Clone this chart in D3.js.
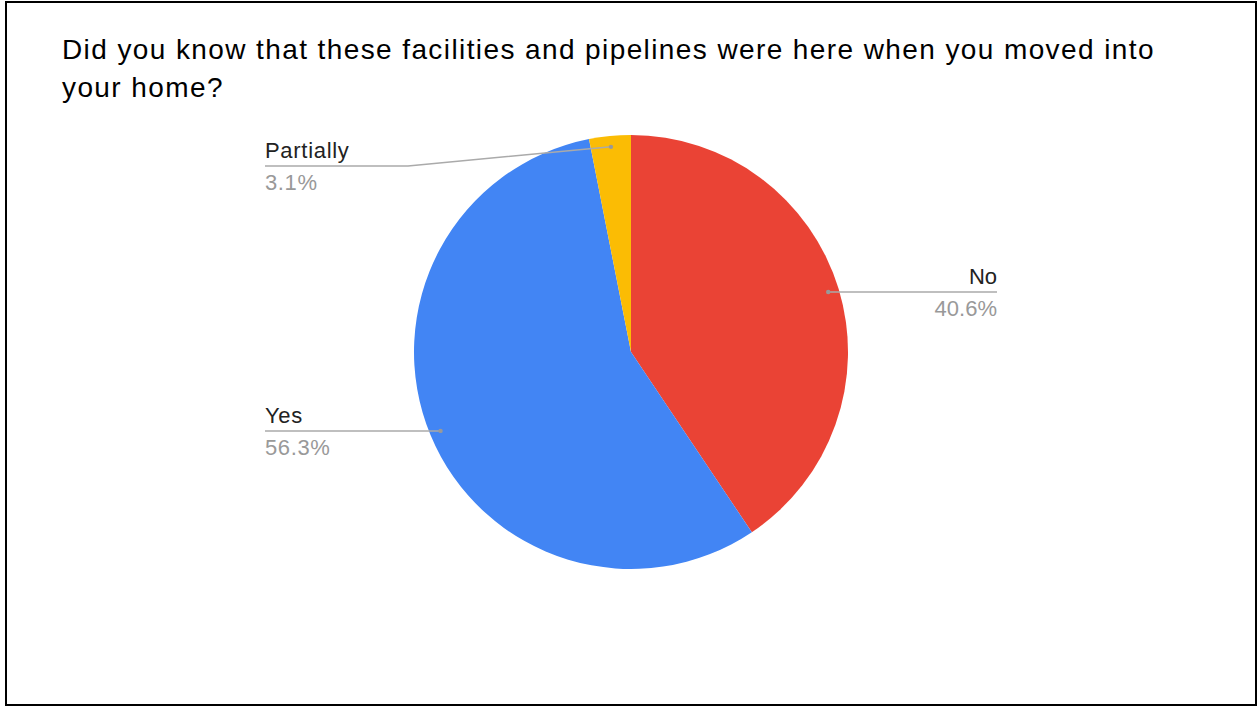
<!DOCTYPE html>
<html>
<head>
<meta charset="utf-8">
<script src="https://cdn.jsdelivr.net/npm/d3@7"></script>
<style>
  body { margin: 0; background: #fff; }
  svg { display: block; }
</style>
</head>
<body>
<svg id="chart"></svg>
<script>
const titleLines = [
  'Did you know that these facilities and pipelines were here when you moved into',
  'your home?'
]
const categories = ['No', 'Yes', 'Partially']
const values = [40.6, 56.3, 3.1]
const colors = ['#ea4335', '#4285f4', '#fbbc04']

const width = 1257
const height = 706
const cx = 631
const cy = 352
const radius = 217
const labelOffset = 366
const font = 'Arial, "Liberation Sans", sans-serif'

const svg = d3.select('#chart').attr('width', width).attr('height', height)

// frame
svg.append('rect')
  .attr('x', 6).attr('y', 2)
  .attr('width', 1250).attr('height', 703)
  .attr('fill', '#fff')
  .attr('stroke', '#000')
  .attr('stroke-width', 2)

svg.append('g')
  .selectAll('text')
  .data(titleLines)
  .enter()
  .append('text')
  .attr('x', 62)
  .attr('y', (d, i) => 59 + i * 38)
  .attr('font-family', font)
  .attr('font-size', 28)
  .attr('letter-spacing', 1.4)
  .attr('fill', '#000')
  .text(d => d)

const data = categories.map((c, i) => ({ name: c, value: values[i], color: colors[i] }))

const pie = d3.pie().sort(null).value(d => d.value)
const arcs = pie(data)
const arc = d3.arc().innerRadius(0).outerRadius(radius)
const dotArc = d3.arc().innerRadius(radius * 0.95).outerRadius(radius * 0.95)

const g = svg.append('g').attr('transform', `translate(${cx},${cy})`)

g.selectAll('path.slice')
  .data(arcs)
  .enter()
  .append('path')
  .attr('class', 'slice')
  .attr('d', arc)
  .attr('fill', d => d.data.color)

// labels with leader lines
arcs.forEach(d => {
  const [px, py] = dotArc.centroid(d)
  const mid = (d.startAngle + d.endAngle) / 2
  const right = Math.sin(mid) > 0
  const endX = right ? labelOffset : -labelOffset
  // keep labels below the top of the pie
  const ly = Math.max(py, -radius + 31)
  let points
  if (ly !== py) {
    const elbowX = right ? labelOffset - 143 : -labelOffset + 143
    points = [[px, py], [elbowX, ly], [endX, ly]]
  } else {
    points = [[px, py], [endX, ly]]
  }
  g.append('path')
    .attr('d', d3.line()(points))
    .attr('fill', 'none')
    .attr('stroke', '#aaa')
    .attr('stroke-width', 1.5)
  g.append('circle')
    .attr('cx', px).attr('cy', py)
    .attr('r', 2.2)
    .attr('fill', '#999')
  g.append('text')
    .attr('x', endX)
    .attr('y', ly - 8)
    .attr('text-anchor', right ? 'end' : 'start')
    .attr('font-family', font)
    .attr('font-size', 22)
    .attr('letter-spacing', right ? 0 : 0.7)
    .attr('fill', '#222')
    .text(d.data.name)
  g.append('text')
    .attr('x', endX)
    .attr('y', ly + 24)
    .attr('text-anchor', right ? 'end' : 'start')
    .attr('font-family', font)
    .attr('font-size', 22)
    .attr('letter-spacing', right ? 0 : 0.6)
    .attr('fill', '#999')
    .text(d3.format('.1f')(d.data.value) + '%')
})
</script>
</body>
</html>
